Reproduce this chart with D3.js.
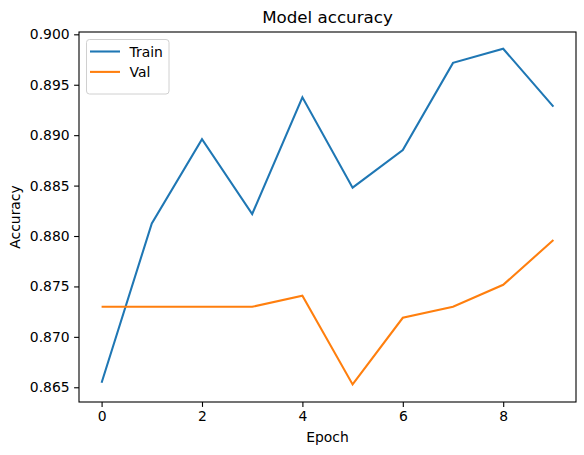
<!DOCTYPE html>
<html>
<head>
<meta charset="utf-8">
<script src="https://cdn.jsdelivr.net/npm/d3@7"></script>
<style>
  body { margin: 0; background: #fff; }
  text { font-family: "DejaVu Sans", sans-serif; fill: #000; }
</style>
</head>
<body>
<div id="main"></div>
<script>
// data
const epochs = [0, 1, 2, 3, 4, 5, 6, 7, 8, 9];
const trainAcc = [0.86545, 0.88125, 0.88960, 0.88218, 0.89375, 0.88479, 0.88852, 0.89717, 0.89857, 0.89283];
const valAcc = [0.87298, 0.87298, 0.87298, 0.87298, 0.87408, 0.86528, 0.87189, 0.87298, 0.87516, 0.87960];
const xTicks = [0, 2, 4, 6, 8];
const yTicks = [0.865, 0.870, 0.875, 0.880, 0.885, 0.890, 0.895, 0.900];
const seriesNames = ["Train", "Val"];
const seriesColors = ["#1f77b4", "#ff7f0e"];

const width = 584, height = 455;
const margin = {top: 32, right: 8, bottom: 53, left: 79};
const w = width - margin.left - margin.right;
const h = height - margin.top - margin.bottom;

const svg = d3.select("#main").append("svg")
    .attr("width", width)
    .attr("height", height);

const x = d3.scaleLinear().domain([-0.45, 9.45]).range([0, w]);
const y = d3.scaleLinear().domain([0.86354, 0.90023]).range([h, 0]);

const g = svg.append("g")
    .attr("transform", `translate(${margin.left},${margin.top})`);

const xAxis = g.append("g")
    .attr("transform", `translate(0,${h})`)
    .call(d3.axisBottom(x).tickValues(xTicks).tickFormat(d3.format("d")).tickSizeOuter(0).tickSize(4.9).tickPadding(4.5));
const yAxis = g.append("g")
    .call(d3.axisLeft(y).tickValues(yTicks).tickFormat(d3.format(".3f")).tickSizeOuter(0).tickSize(4.9).tickPadding(4.5));

[xAxis, yAxis].forEach(a => {
  a.select(".domain").remove();
  a.selectAll(".tick line").attr("stroke", "#000").attr("stroke-width", 1.1);
  a.selectAll(".tick text").style("font-size", "13.9px").attr("fill", "#000");
});

// lines
const line = d3.line()
    .x((d, i) => x(epochs[i]))
    .y(d => y(d));

[trainAcc, valAcc].forEach((s, k) => {
  g.append("path")
      .datum(s)
      .attr("fill", "none")
      .attr("stroke", seriesColors[k])
      .attr("stroke-width", 2.08)
      .attr("stroke-linejoin", "miter")
      .attr("d", line);
});

// frame
g.append("rect")
    .attr("width", w)
    .attr("height", h)
    .attr("fill", "none")
    .attr("stroke", "#000")
    .attr("stroke-width", 1.1);

// labels
svg.append("text")
    .attr("x", margin.left + w / 2)
    .attr("y", 23)
    .attr("text-anchor", "middle")
    .style("font-size", "16.7px")
    .text("Model accuracy");

svg.append("text")
    .attr("x", margin.left + w / 2)
    .attr("y", 442)
    .attr("text-anchor", "middle")
    .style("font-size", "13.9px")
    .text("Epoch");

svg.append("text")
    .attr("transform", `translate(20,${margin.top + h / 2}) rotate(-90)`)
    .attr("text-anchor", "middle")
    .style("font-size", "13.9px")
    .text("Accuracy");

// legend
const legend = g.append("g").attr("transform", "translate(7.5,7.5)");
legend.append("rect")
    .attr("width", 82.5)
    .attr("height", 54.5)
    .attr("rx", 3)
    .attr("fill", "#fff")
    .attr("fill-opacity", 0.8)
    .attr("stroke", "#d0d0d0")
    .attr("stroke-width", 1);

const item = legend.selectAll(".item")
    .data(seriesNames)
    .enter().append("g")
    .attr("transform", (d, i) => `translate(0,${12 + i * 20.4})`);
item.append("line")
    .attr("x1", 3.5).attr("x2", 33.5)
    .attr("stroke", (d, i) => seriesColors[i])
    .attr("stroke-width", 2.08);
item.append("text")
    .attr("x", 43)
    .attr("y", 5)
    .style("font-size", "13.9px")
    .text(d => d);
</script>
</body>
</html>
